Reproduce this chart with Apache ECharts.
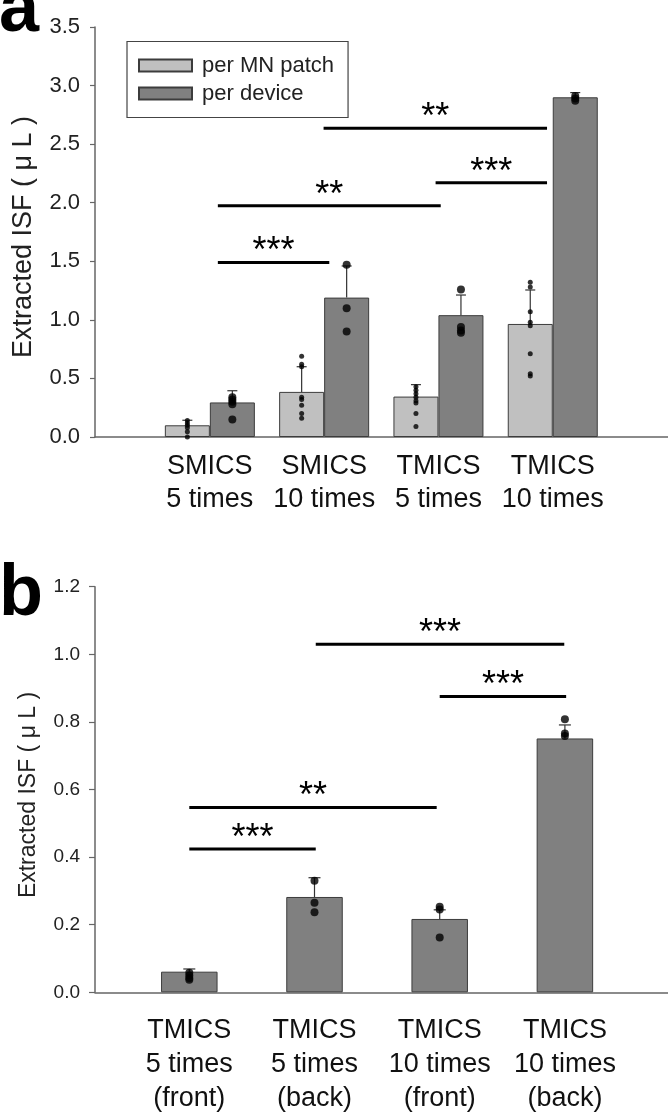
<!DOCTYPE html>
<html>
<head>
<meta charset="utf-8">
<script src="https://cdn.jsdelivr.net/npm/echarts@6/dist/echarts.min.js"></script>
<style>
  html, body { margin: 0; padding: 0; background: #fff; }
  #chart { width: 668px; height: 1116px; }
</style>
</head>
<body>
<div id="chart"></div>
<script>
// ---------- Panel a data ----------
const catsA = ['SMICS\n5 times', 'SMICS\n10 times', 'TMICS\n5 times', 'TMICS\n10 times'];
const patchMean = [0.10, 0.385, 0.345, 0.965];
const patchSd = [0.043, 0.215, 0.102, 0.29];
const deviceMean = [0.295, 1.19, 1.04, 2.90];
const deviceSd = [0.10, 0.27, 0.172, 0.04];
const patchDots = [
  [0.14, 0.12, 0.10, 0.08, 0.045, 0.0],
  [0.69, 0.62, 0.60, 0.34, 0.32, 0.27, 0.20, 0.16],
  [0.43, 0.40, 0.37, 0.34, 0.31, 0.29, 0.20, 0.09],
  [1.32, 1.28, 1.07, 0.98, 0.95, 0.71, 0.54, 0.52]
];
const deviceDots = [
  [0.34, 0.32, 0.30, 0.28, 0.15],
  [1.47, 1.10, 0.90],
  [1.26, 0.94, 0.91, 0.89],
  [2.91, 2.89, 2.87]
];
const yTicksA = { min: 0, max: 3.5, interval: 0.5 };
// [from category, to category, y value, label]
const sigA = [
  [0.07, 1.045, 1.49, '***'],
  [0.07, 2.02, 1.975, '**'],
  [1.975, 2.95, 2.17, '***'],
  [0.995, 2.95, 2.635, '**']
];
const seriesNamesA = ['per MN patch', 'per device'];

// ---------- Panel b data ----------
const catsB = ['TMICS\n5 times\n(front)', 'TMICS\n5 times\n(back)', 'TMICS\n10 times\n(front)', 'TMICS\n10 times\n(back)'];
const meanB = [0.061, 0.282, 0.217, 0.751];
const sdB = [0.008, 0.057, 0.027, 0.04];
const dotsB = [
  [0.058, 0.050, 0.042, 0.037],
  [0.330, 0.265, 0.237],
  [0.253, 0.245, 0.162],
  [0.808, 0.766, 0.758]
];
const yTicksB = { min: 0, max: 1.2, interval: 0.2 };
const sigB = [
  [0.0, 1.01, 0.424, '***'],
  [0.0, 1.976, 0.547, '**'],
  [2.0, 3.01, 0.875, '***'],
  [1.01, 2.995, 1.03, '***']
];

// ---------- styles ----------
const FONT = '"Liberation Sans", Arial, sans-serif';
const LIGHT = '#c0c0c0', DARK = '#808080', EDGE = '#3c3c3c', AXIS = '#666';
const BAR_W_A = 45, BAR_W_B = 56.5;

function errRender(offsetPx, capHalf) {
  return function (params, api) {
    const c = api.value(0), m = api.value(1), s = api.value(2);
    const p0 = api.coord([c, m]);
    const p1 = api.coord([c, m + s]);
    const x = p0[0] + offsetPx;
    const st = { stroke: '#333', lineWidth: 1.2 };
    return { type: 'group', children: [
      { type: 'line', shape: { x1: x, y1: p0[1], x2: x, y2: p1[1] }, style: st },
      { type: 'line', shape: { x1: x - capHalf, y1: p1[1], x2: x + capHalf, y2: p1[1] }, style: st }
    ]};
  };
}
function sigRender(list) {
  return function (params, api) {
    const s = list[params.dataIndex];
    const band = api.size([1, 0])[0];
    const base = api.coord([0, s[2]]);
    const x1 = base[0] + s[0] * band, x2 = base[0] + s[1] * band, y = base[1];
    return { type: 'group', children: [
      { type: 'line', shape: { x1: x1, y1: y, x2: x2, y2: y }, style: { stroke: '#000', lineWidth: 3 } },
      { type: 'text', style: { text: s[3], x: (x1 + x2) / 2, y: y - 10, align: 'center', verticalAlign: 'middle',
          fontSize: 36, fontFamily: FONT, fill: '#000' } }
    ]};
  };
}
function frameY(t, fontSize, tickLen, name, nameSize, nameGap, namePad, gridIndex) {
  return {
    type: 'value', gridIndex: gridIndex, min: t.min, max: t.max, interval: t.interval,
    axisLine: { show: true, lineStyle: { color: AXIS, width: 1.5 } },
    axisTick: { show: true, inside: false, length: tickLen, lineStyle: { color: AXIS, width: 1.2 } },
    axisLabel: { fontSize: fontSize, fontFamily: FONT, color: '#222', margin: 15, formatter: v => v.toFixed(1) },
    splitLine: { show: false },
    name: name, nameLocation: 'middle', nameGap: nameGap, nameRotate: 90,
    nameTextStyle: { fontSize: nameSize, fontFamily: FONT, color: '#222', padding: namePad }
  };
}
function frameX(gridIndex) {
  return { type: 'value', gridIndex: gridIndex, min: 0, max: 1,
    axisLine: { show: true, lineStyle: { color: AXIS, width: 1.5 } },
    axisTick: { show: false }, axisLabel: { show: false }, splitLine: { show: false } };
}
function catX(cats, gridIndex, margin, lineHeight) {
  return { type: 'category', gridIndex: gridIndex, data: cats,
    axisLine: { show: false }, axisTick: { show: false },
    axisLabel: { interval: 0, fontSize: 27, fontFamily: FONT, color: '#111', margin: margin, lineHeight: lineHeight } };
}
function hiddenY(t, gridIndex) {
  return { type: 'value', gridIndex: gridIndex, min: t.min, max: t.max, interval: t.interval, show: false };
}
const flat = arr => arr.flatMap((vals, i) => vals.map(v => [i, v]));

const option = {
  animation: false,
  backgroundColor: '#fff',
  grid: [
    { left: 95, right: 0, top: 27, bottom: 679 },
    { left: 152.7, right: 58.1, top: 27, bottom: 679 },
    { left: 95, right: 0, top: 586.7, bottom: 123.7 },
    { left: 126.7, right: 40.5, top: 586.7, bottom: 123.7 }
  ],
  xAxis: [
    frameX(0),
    catX(catsA, 1, 13.5, 33),
    frameX(2),
    catX(catsB, 3, 21, 34)
  ],
  yAxis: [
    frameY(yTicksA, 22, 5, 'Extracted ISF ( μ L )', 27, 58, [0, 10, 0, 0], 0),
    hiddenY(yTicksA, 1),
    frameY(yTicksB, 19, 6, 'Extracted ISF ( μ L )', 23, 55, [0, 11, 0, 0], 2),
    hiddenY(yTicksB, 3)
  ],
  legend: {
    data: seriesNamesA, orient: 'vertical', left: 127, top: 41.5,
    icon: 'rect', itemWidth: 53, itemHeight: 12, itemGap: 6,
    padding: [13, 14, 13, 11], borderColor: '#444', borderWidth: 1.2,
    textStyle: { fontSize: 22, fontFamily: FONT, color: '#222', padding: [0, 0, 0, 5] }
  },
  graphic: [
    { type: 'text', x: -1, y: 11, style: { text: 'a', fontSize: 72, fontWeight: 'bold', fontFamily: FONT, fill: '#000', verticalAlign: 'middle' } },
    { type: 'text', x: -1, y: 595, style: { text: 'b', fontSize: 72, fontWeight: 'bold', fontFamily: FONT, fill: '#000', verticalAlign: 'middle' } }
  ],
  series: [
    { name: seriesNamesA[0], type: 'bar', xAxisIndex: 1, yAxisIndex: 1, data: patchMean, barWidth: BAR_W_A, barGap: '0%',
      itemStyle: { color: LIGHT, borderColor: EDGE, borderWidth: 1 }, z: 2 },
    { name: seriesNamesA[1], type: 'bar', xAxisIndex: 1, yAxisIndex: 1, data: deviceMean, barWidth: BAR_W_A, barGap: '0%',
      itemStyle: { color: DARK, borderColor: EDGE, borderWidth: 1 }, z: 2 },
    { type: 'custom', xAxisIndex: 1, yAxisIndex: 1, z: 3, renderItem: errRender(-BAR_W_A / 2, 5),
      data: patchMean.map((m, i) => [i, m, patchSd[i]]), encode: { x: 0, y: 1 } },
    { type: 'custom', xAxisIndex: 1, yAxisIndex: 1, z: 3, renderItem: errRender(BAR_W_A / 2, 5),
      data: deviceMean.map((m, i) => [i, m, deviceSd[i]]), encode: { x: 0, y: 1 } },
    { type: 'scatter', xAxisIndex: 1, yAxisIndex: 1, z: 4, data: flat(patchDots), symbolSize: 5,
      symbolOffset: [-BAR_W_A / 2, 0], itemStyle: { color: '#000' } },
    { type: 'scatter', xAxisIndex: 1, yAxisIndex: 1, z: 4, data: flat(deviceDots), symbolSize: 8,
      symbolOffset: [BAR_W_A / 2, 0], itemStyle: { color: '#000' } },
    { type: 'custom', xAxisIndex: 1, yAxisIndex: 1, z: 5, renderItem: sigRender(sigA),
      data: sigA.map(s => [0, s[2]]), encode: { x: 0, y: 1 } },

    { name: 'TMICS', type: 'bar', xAxisIndex: 3, yAxisIndex: 3, data: meanB, barWidth: BAR_W_B,
      itemStyle: { color: DARK, borderColor: EDGE, borderWidth: 1 }, z: 2 },
    { type: 'custom', xAxisIndex: 3, yAxisIndex: 3, z: 3, renderItem: errRender(0, 6),
      data: meanB.map((m, i) => [i, m, sdB[i]]), encode: { x: 0, y: 1 } },
    { type: 'scatter', xAxisIndex: 3, yAxisIndex: 3, z: 4, data: flat(dotsB), symbolSize: 8, itemStyle: { color: '#000' } },
    { type: 'custom', xAxisIndex: 3, yAxisIndex: 3, z: 5, renderItem: sigRender(sigB),
      data: sigB.map(s => [0, s[2]]), encode: { x: 0, y: 1 } }
  ]
};
const chart = echarts.init(document.getElementById('chart'), null, { renderer: 'canvas' });
chart.setOption(option);
</script>
</body>
</html>
